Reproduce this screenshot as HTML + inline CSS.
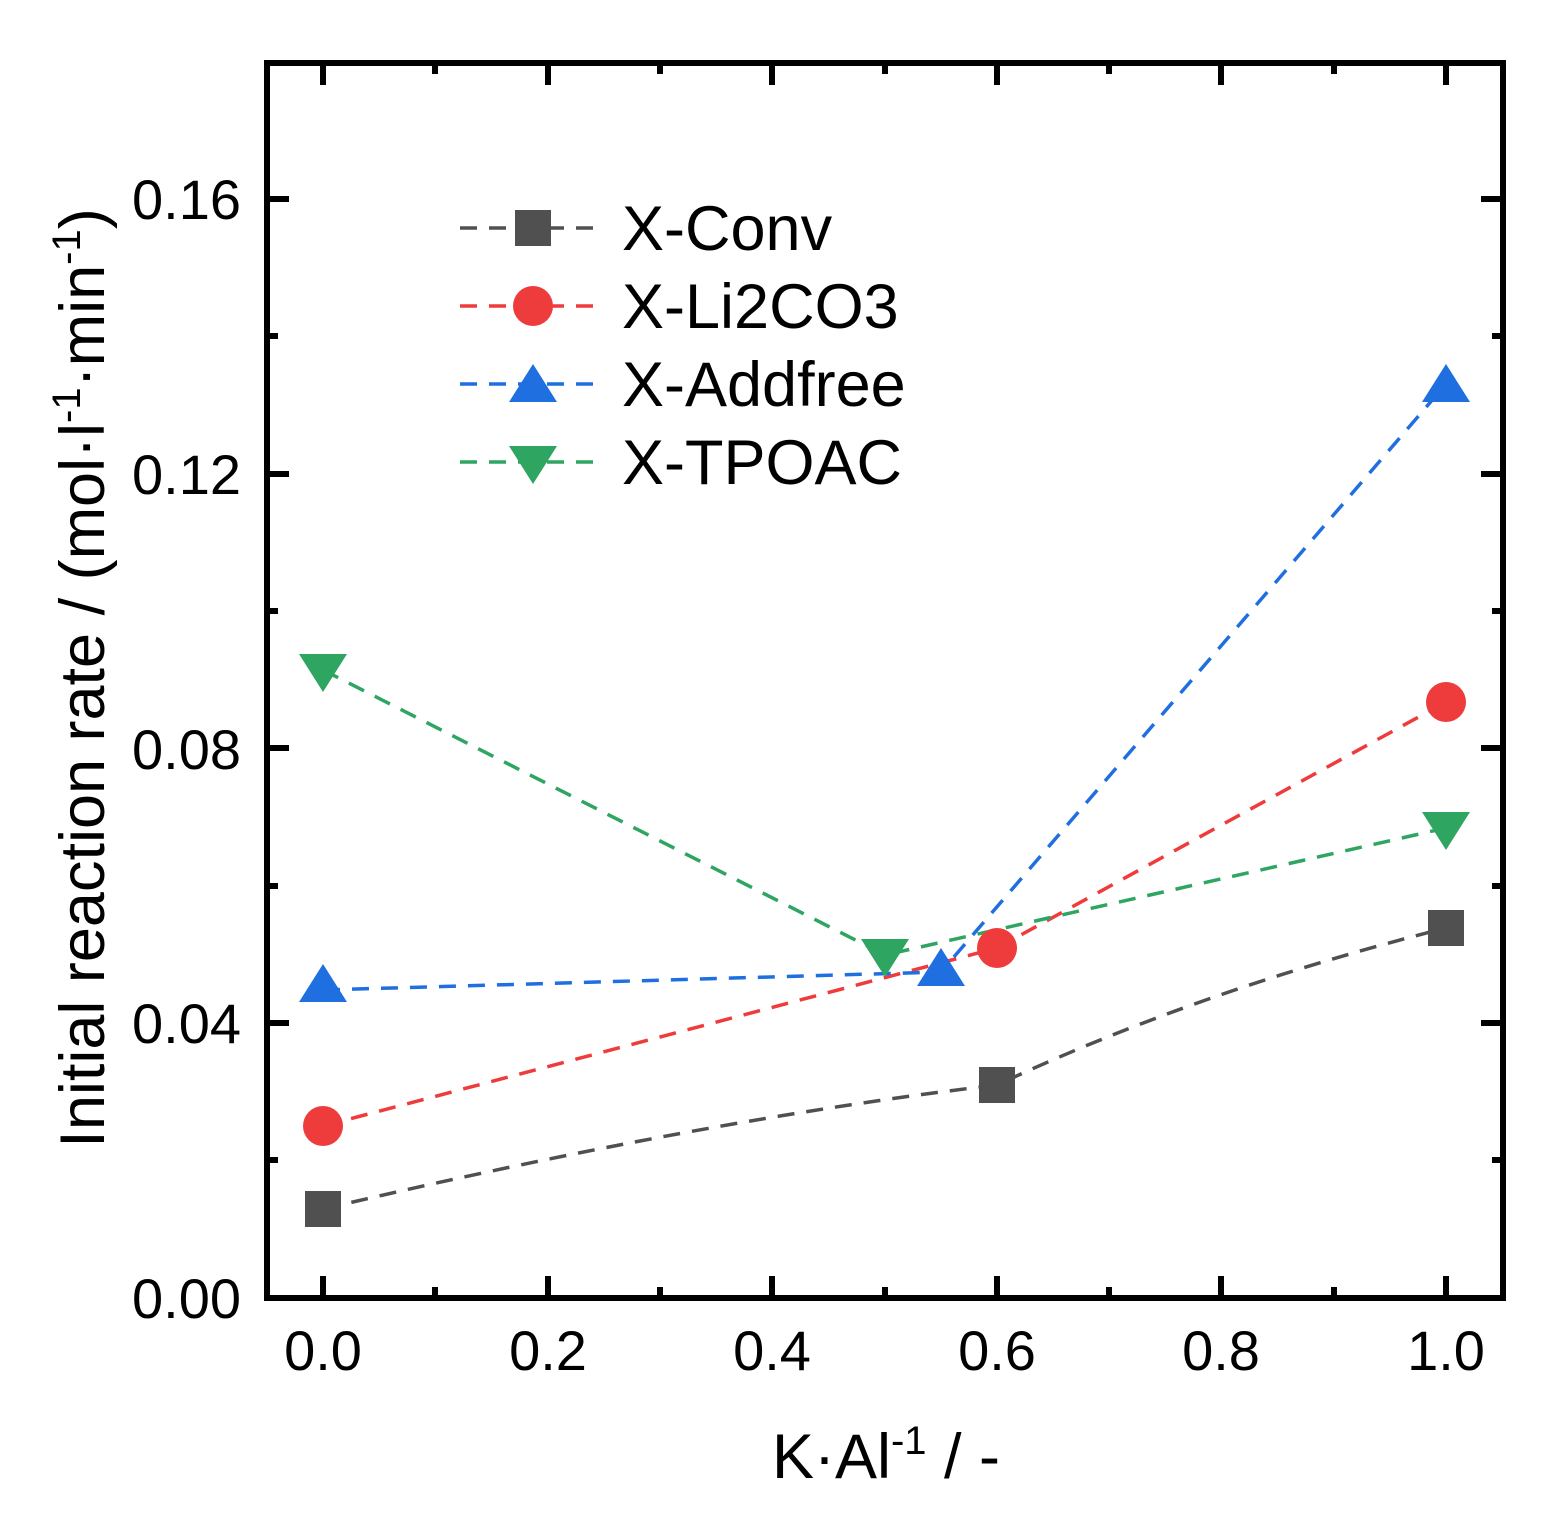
<!DOCTYPE html><html><head><style>body{margin:0;background:#fff}</style></head><body>
<svg width="1560" height="1525" xmlns="http://www.w3.org/2000/svg" font-family="Liberation Sans, sans-serif">
<g stroke="#000" stroke-width="6">
<rect x="267" y="63" width="1236" height="1235" fill="none"/>
<path d="M323 1298v-22M548 1298v-22M772 1298v-22M997 1298v-22M1221 1298v-22M1446 1298v-22M435 1298v-11M660 1298v-11M885 1298v-11M1109 1298v-11M1334 1298v-11
M323 63v22M548 63v22M772 63v22M997 63v22M1221 63v22M1446 63v22M435 63v11M660 63v11M885 63v11M1109 63v11M1334 63v11
M267 1023h22M267 748h22M267 474h22M267 199h22M267 1160h11M267 886h11M267 611h11M267 336h11
M1503 1023h-22M1503 748h-22M1503 474h-22M1503 199h-22M1503 1160h-11M1503 886h-11M1503 611h-11M1503 336h-11"/>
</g>
<g font-size="56" text-anchor="end">
<text x="241" y="1318">0.00</text><text x="241" y="1043">0.04</text><text x="241" y="769">0.08</text><text x="241" y="494">0.12</text><text x="241" y="219">0.16</text>
</g>
<g font-size="56" text-anchor="middle">
<text x="323" y="1370">0.0</text><text x="548" y="1370">0.2</text><text x="772" y="1370">0.4</text><text x="997" y="1370">0.6</text><text x="1221" y="1370">0.8</text><text x="1446" y="1370">1.0</text>
</g>
<text x="886" y="1478" font-size="63" text-anchor="middle">K·Al<tspan dy="-24" font-size="40">-1</tspan><tspan dy="24"> / -</tspan></text>
<text transform="translate(104,678) rotate(-90)" font-size="63" text-anchor="middle">Initial reaction rate / (mol·l<tspan dy="-24" font-size="40">-1</tspan><tspan dy="24">·min</tspan><tspan dy="-24" font-size="40">-1</tspan><tspan dy="24">)</tspan></text>
<g fill="none" stroke-width="3.5" stroke-dasharray="17 12">
<path d="M323 1209 Q700 1120 997 1085 Q1200 990 1446 928" stroke="#505050"/>
<path d="M323 1126 L997 948 L1446 702" stroke="#ee3b3b"/>
<path d="M323 990 L941 972 L1446 384" stroke="#1f6fe0"/>
<path d="M323 670 L885 955 L1446 828" stroke="#2fa562"/>
<path d="M460 228h137" stroke="#505050"/><path d="M460 306h137" stroke="#ee3b3b"/><path d="M460 384h137" stroke="#1f6fe0"/><path d="M460 462h137" stroke="#2fa562"/>
</g>
<g fill="#505050"><rect x="305" y="1191" width="36" height="36"/><rect x="979" y="1067" width="36" height="36"/><rect x="1428" y="910" width="36" height="36"/><rect x="515" y="210" width="36" height="36"/></g>
<g fill="#ee3b3b"><circle cx="323" cy="1126" r="20"/><circle cx="997" cy="948" r="20"/><circle cx="1446" cy="702" r="20"/><circle cx="533" cy="306" r="20"/></g>
<g fill="#1f6fe0"><path d="M323 964l24 38h-48z"/><path d="M941 948l24 38h-48z"/><path d="M1446 364l24 38h-48z"/><path d="M533 364l24 38h-48z"/></g>
<g fill="#2fa562"><path d="M323 692l24-38h-48z"/><path d="M885 977l24-38h-48z"/><path d="M1446 850l24-38h-48z"/><path d="M533 484l24-38h-48z"/></g>
<g font-size="63"><text x="622" y="250">X-Conv</text><text x="622" y="328">X-Li2CO3</text><text x="622" y="406">X-Addfree</text><text x="622" y="484">X-TPOAC</text></g>
</svg></body></html>
